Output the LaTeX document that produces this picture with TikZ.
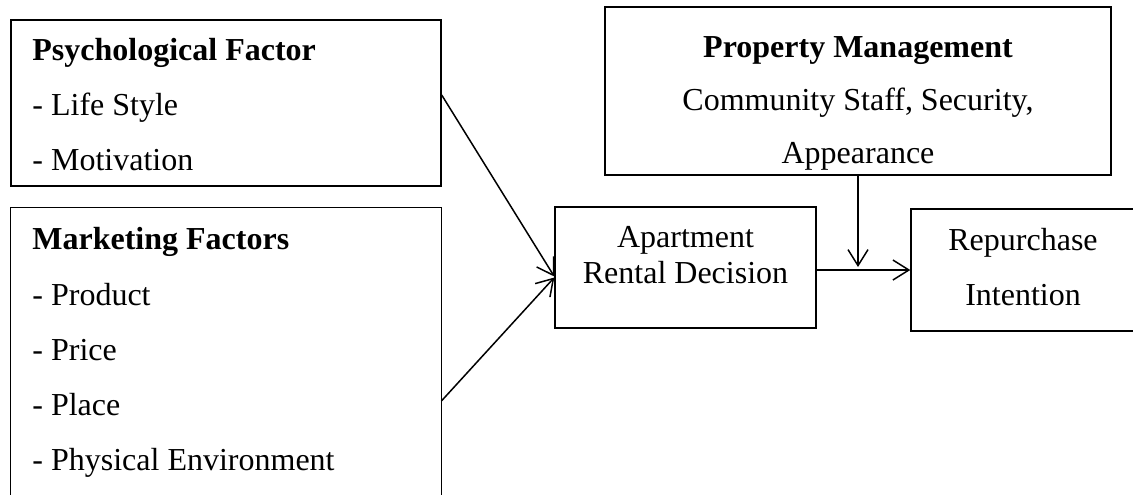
\documentclass[tikz,border=0pt]{standalone}
\usepackage{fontspec}
\setmainfont{Liberation Serif}
\usetikzlibrary{arrows.meta}
\begin{document}
\begin{tikzpicture}[x=0.5pt,y=-0.5pt,
  box/.style={draw, line width=0.7pt, inner sep=0pt},
  txt/.style={inner sep=0pt, font=\fontsize{16pt}{18pt}\selectfont},
  arr/.style={line width=0.75pt, -{Straight Barb[length=8pt,width=10pt]}}]
\useasboundingbox (0,0) rectangle (1133,494);

% boxes
\node[box, minimum width=215pt, minimum height=83pt] (psych) at (226,103) {};
\node[inner sep=0pt, minimum width=215pt, minimum height=193pt] (market) at (226,401) {};
\draw[line width=0.7pt] (market.south west) |- (market.north east) -- (market.south east);
\node[box, minimum width=130.5pt, minimum height=60.5pt] (apt) at (685.5,267.5) {};
\node[box, minimum width=253pt, minimum height=84pt] (prop) at (858,91) {};
\node[box, minimum width=112.5pt, minimum height=61pt] (rep) at (1023.5,270) {};

% psychological factor
\node[txt, anchor=base west] (p1) at (32,60) {\bfseries Psychological Factor};
\node[txt, anchor=base west] (p2) at (32,115) {- Life Style};
\node[txt, anchor=base west] (p3) at (32,170) {- Motivation};

% marketing factors
\node[txt, anchor=base west] (m1) at (32,249) {\bfseries Marketing Factors};
\node[txt, anchor=base west] (m2) at (32,305) {- Product};
\node[txt, anchor=base west] (m3) at (32,360) {- Price};
\node[txt, anchor=base west] (m4) at (32,415) {- Place};
\node[txt, anchor=base west] (m5) at (32,470) {- Physical Environment};

% property management
\node[txt, anchor=base] (q1) at (858,57) {\bfseries Property Management};
\node[txt, anchor=base] (q2) at (858,110) {Community Staff, Security,};
\node[txt, anchor=base] (q3) at (858,163) {Appearance};

% decision and intention
\node[txt, anchor=base] (a1) at (685.5,247) {Apartment};
\node[txt, anchor=base] (a2) at (685.5,283) {Rental Decision};
\node[txt, anchor=base] (r1) at (1023,250) {Repurchase};
\node[txt, anchor=base] (r2) at (1023,305) {Intention};

% connectors
\coordinate (meet) at (prop.south |- rep.west);
\draw[arr] ([yshift=4pt]psych.east) -- ([yshift=-4.5pt]apt.west);
\draw[arr] (market.east) -- ([yshift=-5pt]apt.west);
\draw[arr] (apt.east |- rep.west) -- (rep.west);
\draw[arr] (prop.south) -- ([yshift=1.5pt]meet);
\end{tikzpicture}
\end{document}
